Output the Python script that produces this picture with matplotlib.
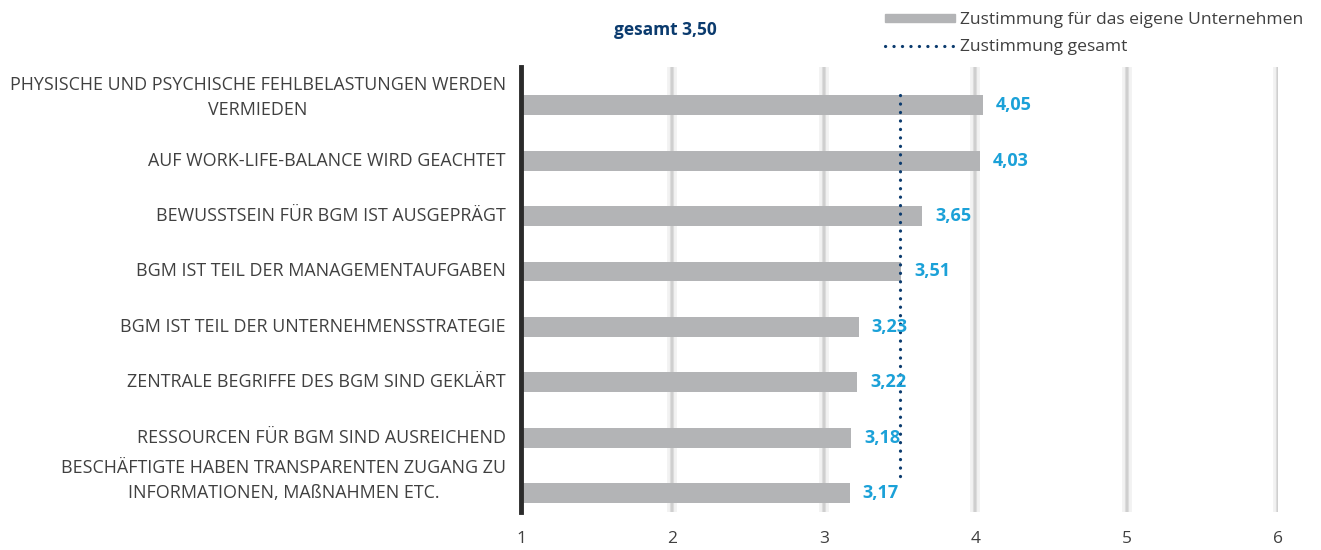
import matplotlib.pyplot as plt
from matplotlib.lines import Line2D
from matplotlib.patches import Patch

categories = [
    "PHYSISCHE UND PSYCHISCHE FEHLBELASTUNGEN WERDEN\nVERMIEDEN",
    "AUF WORK-LIFE-BALANCE WIRD GEACHTET",
    "BEWUSSTSEIN FÜR BGM IST AUSGEPRÄGT",
    "BGM IST TEIL DER MANAGEMENTAUFGABEN",
    "BGM IST TEIL DER UNTERNEHMENSSTRATEGIE",
    "ZENTRALE BEGRIFFE DES BGM SIND GEKLÄRT",
    "RESSOURCEN FÜR BGM SIND AUSREICHEND",
    "BESCHÄFTIGTE HABEN TRANSPARENTEN ZUGANG ZU\nINFORMATIONEN, MAßNAHMEN ETC.",
]
values = [4.05, 4.03, 3.65, 3.51, 3.23, 3.22, 3.18, 3.17]
gesamt = 3.50
x_ticks = [1, 2, 3, 4, 5, 6]

BAR = "#b3b4b6"
NAVY = "#0b3b6e"
CYAN = "#1ba1d8"
TEXT = "#404040"
DOTS = (0, (0.05, 2.6))

plt.rcParams['font.family'] = ['Open Sans', 'DejaVu Sans']

fig = plt.figure(figsize=(13.21, 5.5), dpi=100)
ax = fig.add_axes([521 / 1321, 1 - 512 / 550, (1278 - 521) / 1321, (512 - 67) / 550])

y = list(range(len(categories)))
bar_h = 0.36

# soft, slightly blurred vertical grid
for t in x_ticks[1:]:
    ax.axvline(t, color="#f2f2f2", lw=7, zorder=0)
    ax.axvline(t, color="#dcdcdc", lw=3, zorder=0)
    ax.axvline(t, color="#cdcdcd", lw=1.2, zorder=0)

ax.barh(y, [v - 1 for v in values], left=1, height=bar_h, color=BAR, zorder=2)

for yi, v in zip(y, values):
    ax.text(v + 0.085, yi, f"{v:.2f}".replace(".", ","), color=CYAN,
            fontsize=13, fontweight="bold", va="center", ha="left", zorder=4)

ax.plot([gesamt, gesamt], [-bar_h / 2, len(values) - 1 - bar_h / 2],
        color=NAVY, lw=2.3, linestyle=DOTS, dash_capstyle="round", zorder=3)

ax.set_xlim(1, 6)
ax.set_ylim(len(values) - 1 + 0.34, -0.69)
ax.set_xticks(x_ticks)
ax.set_xticklabels([str(t) for t in x_ticks], color=TEXT, fontsize=12.5)

# two-line labels sit a little above their bar in the original
ax.set_yticks([])
for yi, lab in zip(y, categories):
    shift = 0.0
    if "\n" in lab:
        shift = -0.14 if yi == 0 else -0.23
    ax.text(-0.02, yi + shift, lab, transform=ax.get_yaxis_transform(),
            ha="right", va="center", multialignment="center", color=TEXT,
            fontsize=12.9, linespacing=1.5)
ax.tick_params(axis="x", length=0, pad=14)

for s in ["top", "right", "bottom"]:
    ax.spines[s].set_visible(False)
ax.spines["left"].set_color("#2b2b2b")
ax.spines["left"].set_linewidth(3.5)

fig.text(665 / 1321, 1 - 30 / 550, "gesamt 3,50", color=NAVY, fontsize=12.5,
         fontweight="bold", ha="center", va="center")

handles = [Patch(color=BAR),
           Line2D([0], [0], color=NAVY, lw=2.3, linestyle=DOTS, dash_capstyle="round")]
fig.legend(handles, ["Zustimmung für das eigene Unternehmen", "Zustimmung gesamt"],
           loc="upper right", bbox_to_anchor=(1316 / 1321, 1.0), frameon=False,
           fontsize=12.6, labelcolor=TEXT, handlelength=4.0, handleheight=0.4,
           handletextpad=0.3, labelspacing=0.62, borderpad=0.2)

fig.savefig("out.png", dpi=100)
